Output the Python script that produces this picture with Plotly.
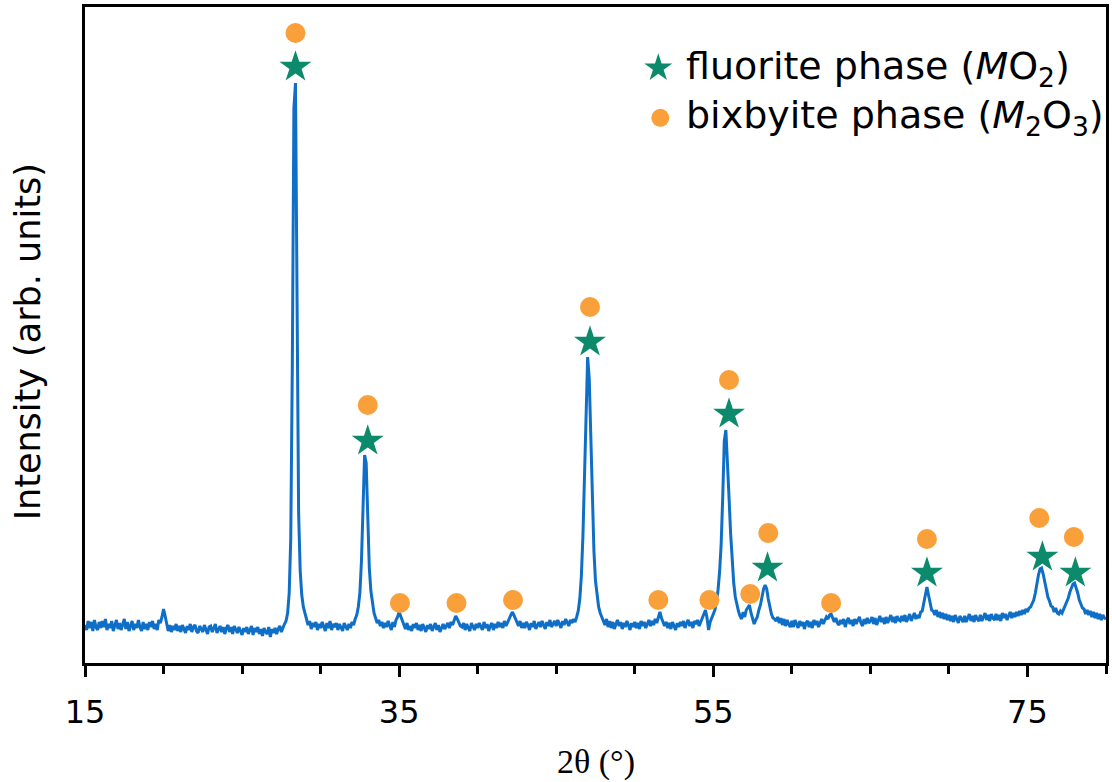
import plotly.graph_objects as go

# ---------------- data ----------------
# diffraction angle grid, 0.1 degree steps from 15.0 to 80.0
two_theta = [round(d + k / 10, 1) for d in range(15, 80) for k in range(10)] + [80.0]

# intensity (arb. units), one row per degree (d.0 ... d.9)
intensity = [
    38, 33, 42, 35, 41, 32, 43, 36, 33, 41,   # 15
    35, 42, 36, 44, 33, 39, 35, 42, 32, 39,   # 16
    43, 34, 40, 33, 39, 44, 34, 41, 32, 38,   # 17
    42, 33, 39, 35, 43, 36, 32, 41, 34, 39,   # 18
    33, 41, 36, 42, 34, 39, 33, 43, 40, 46,   # 19
    54, 47, 38, 32, 38, 31, 37, 33, 39, 32,   # 20
    37, 31, 38, 34, 30, 37, 33, 39, 31, 36,   # 21
    38, 32, 30, 37, 34, 31, 38, 33, 29, 36,   # 22
    37, 31, 35, 39, 30, 34, 37, 31, 36, 29,   # 23
    35, 38, 31, 36, 29, 37, 33, 30, 36, 32,   # 24
    28, 35, 31, 36, 29, 33, 37, 28, 35, 31,   # 25
    36, 29, 34, 27, 35, 31, 29, 36, 26, 34,   # 26
    30, 35, 29, 34, 37, 31, 36, 39, 42, 50,   # 27
    70, 125, 300, 555, 580, 330, 150, 92, 68, 56,   # 28
    50, 45, 38, 42, 34, 40, 36, 41, 33, 39,   # 29
    35, 41, 36, 32, 40, 35, 42, 33, 39, 36,   # 30
    40, 33, 39, 35, 32, 40, 36, 33, 39, 35,   # 31
    41, 38, 44, 48, 56, 70, 102, 162, 208, 200,   # 32
    142, 95, 72, 58, 50, 45, 40, 43, 37, 41,  # 33
    35, 40, 36, 42, 38, 33, 41, 36, 43, 46,   # 34
    51, 47, 41, 37, 34, 40, 33, 37, 32, 39,   # 35
    35, 40, 33, 38, 32, 39, 35, 31, 38, 34,   # 36
    39, 32, 36, 40, 33, 38, 31, 36, 39, 34,   # 37
    37, 40, 35, 41, 38, 43, 47, 44, 40, 37,   # 38
    36, 40, 33, 39, 35, 32, 40, 36, 33, 39,   # 39
    35, 40, 36, 33, 41, 35, 39, 32, 37, 40,   # 40
    33, 39, 35, 41, 36, 40, 35, 42, 37, 41,   # 41
    43, 47, 51, 48, 44, 39, 37, 42, 35, 40,   # 42
    35, 41, 38, 33, 40, 36, 42, 34, 38, 41,   # 43
    36, 42, 38, 34, 41, 37, 43, 36, 39, 42,   # 44
    37, 43, 39, 35, 42, 38, 44, 40, 37, 43,   # 45
    40, 44, 41, 46, 52, 64, 87, 127, 190, 270,    # 46
    306, 285, 225, 162, 112, 82, 66, 56, 50, 46,  # 47
    43, 38, 44, 36, 42, 35, 41, 34, 39, 43,   # 48
    37, 41, 34, 40, 36, 42, 38, 33, 40, 36,   # 49
    41, 35, 40, 34, 42, 37, 41, 35, 39, 43,   # 50
    37, 42, 38, 44, 40, 47, 51, 45, 40, 37,   # 51
    41, 35, 40, 34, 41, 37, 33, 40, 36, 41,   # 52
    37, 42, 35, 40, 43, 37, 41, 35, 42, 39,   # 53
    43, 37, 42, 45, 49, 53, 45, 33, 41, 45,   # 54
    49, 53, 61, 73, 91, 119, 166, 222, 233, 205,  # 55
    166, 130, 100, 80, 66, 58, 52, 47, 44, 51,    # 56
    46, 53, 55, 58, 50, 43, 39, 43, 46, 53,   # 57
    58, 66, 74, 78, 74, 64, 55, 49, 45, 44,   # 58
    42, 46, 40, 45, 38, 44, 37, 43, 39, 36,   # 59
    42, 36, 43, 38, 35, 42, 37, 41, 34, 40,   # 60
    42, 36, 41, 35, 43, 38, 42, 36, 41, 44,   # 61
    39, 43, 46, 44, 48, 49, 45, 41, 45, 40,   # 62
    38, 43, 39, 44, 36, 42, 45, 39, 43, 37,   # 63
    44, 39, 43, 46, 40, 37, 44, 39, 45, 40,   # 64
    42, 46, 39, 45, 38, 43, 47, 41, 45, 39,   # 65
    46, 40, 44, 48, 41, 46, 40, 47, 43, 42,   # 66
    47, 42, 48, 41, 45, 49, 42, 46, 50, 44,   # 67
    48, 45, 51, 52, 59, 67, 76, 68, 59, 53,   # 68
    52, 48, 53, 46, 51, 45, 50, 44, 49, 43,   # 69
    48, 42, 47, 41, 48, 44, 40, 47, 43, 41,   # 70
    47, 41, 45, 49, 42, 47, 41, 48, 44, 42,   # 71
    48, 42, 46, 50, 43, 48, 42, 49, 45, 43,   # 72
    49, 43, 48, 42, 50, 45, 49, 43, 47, 51,   # 73
    45, 50, 46, 51, 47, 52, 48, 53, 49, 54,   # 74
    51, 55, 56, 60, 63, 70, 80, 88, 94, 95,   # 75
    89, 80, 73, 66, 62, 57, 56, 51, 55, 50,   # 76
    49, 52, 50, 54, 56, 60, 65, 71, 76, 79,   # 77
    80, 76, 70, 63, 59, 55, 54, 49, 53, 48,   # 78
    52, 46, 51, 45, 50, 44, 49, 43, 48, 45,   # 79
    44,                                       # 80
]

# phase markers (position, marker height)
fluorite_x = [28.4, 33.0, 47.15, 56.0, 58.45, 68.6, 75.95, 78.05]
fluorite_y = [596, 222, 321, 249, 95, 90, 106, 90]

bixbyite_x = [28.4, 33.0, 35.05, 38.65, 42.25, 47.15, 51.5, 54.75, 56.0, 57.35, 58.5, 62.5, 68.6, 75.75, 77.95]
bixbyite_y = [630, 258, 60, 60, 63, 356, 63, 63, 283, 69, 130, 60, 124, 145, 126]

x_tick_vals = [15, 35, 55, 75]
x_tick_text = ["15", "35", "55", "75"]

legend_labels = ["fluorite phase (<i>M</i>O<sub>2</sub>)",
                 "bixbyite phase (<i>M</i><sub>2</sub>O<sub>3</sub>)"]

# ---------------- styling ----------------
LINE_BLUE = "#0F6FC6"
STAR_GREEN = "#0B8B6B"
DOT_ORANGE = "#F9A03A"
SANS = "DejaVu Sans"
SERIF = "Liberation Serif"

fig = go.Figure()

fig.add_trace(go.Scatter(
    x=two_theta, y=intensity, mode="lines",
    line=dict(color=LINE_BLUE, width=3),
    showlegend=False, hoverinfo="skip"))

fig.add_trace(go.Scatter(
    x=fluorite_x, y=fluorite_y, mode="markers",
    marker=dict(symbol="star", size=24, color=STAR_GREEN, line=dict(width=0)),
    showlegend=False))

fig.add_trace(go.Scatter(
    x=bixbyite_x, y=bixbyite_y, mode="markers",
    marker=dict(symbol="circle", size=20, color=DOT_ORANGE, line=dict(width=0)),
    showlegend=False))

# legend keys drawn on an invisible overlay (paper-like) axis
legend_key_x = [0.5615, 0.5635]
legend_key_y = [0.907, 0.831]
fig.add_trace(go.Scatter(
    x=legend_key_x[:1], y=legend_key_y[:1], xaxis="x2", yaxis="y2", mode="markers",
    marker=dict(symbol="star", size=21, color=STAR_GREEN, line=dict(width=0)),
    showlegend=False, hoverinfo="skip"))
fig.add_trace(go.Scatter(
    x=legend_key_x[1:], y=legend_key_y[1:], xaxis="x2", yaxis="y2", mode="markers",
    marker=dict(symbol="circle", size=18, color=DOT_ORANGE, line=dict(width=0)),
    showlegend=False, hoverinfo="skip"))

annotations = []
for lab, yy in zip(legend_labels, legend_key_y):
    annotations.append(dict(
        text=lab, xref="paper", yref="paper", x=0.587, y=yy,
        xanchor="left", yanchor="middle", showarrow=False,
        font=dict(family=SANS, size=38, color="black")))

annotations.append(dict(
    text="Intensity (arb. units)", xref="paper", yref="paper",
    x=-0.0557, y=0.489, textangle=-90, xanchor="center", yanchor="middle",
    showarrow=False, font=dict(family=SANS, size=35, color="black")))

annotations.append(dict(
    text="2θ (°)", xref="paper", yref="paper",
    x=0.5, y=-0.151, xanchor="center", yanchor="middle",
    showarrow=False, font=dict(family=SERIF, size=34, color="black")))

fig.update_layout(
    width=1112, height=782,
    margin=dict(l=85, r=3, t=7, b=119),
    paper_bgcolor="white", plot_bgcolor="white",
    showlegend=False,
    annotations=annotations,
    xaxis=dict(
        range=[15, 80], tickmode="array", tickvals=x_tick_vals, ticktext=x_tick_text,
        ticks="outside", ticklen=11, tickwidth=2.5, tickcolor="black",
        minor=dict(dtick=5, tick0=15, ticks="outside", ticklen=8, tickwidth=2.5, tickcolor="black", showgrid=False),
        showline=True, linecolor="black", linewidth=3, mirror=True,
        showgrid=False, zeroline=False,
        tickfont=dict(family=SANS, size=32, color="black"),
        ticklabelstandoff=8,
    ),
    yaxis=dict(
        range=[0, 656], showticklabels=False, ticks="",
        showline=True, linecolor="black", linewidth=3, mirror=True,
        showgrid=False, zeroline=False,
    ),
    xaxis2=dict(overlaying="x", range=[0, 1], visible=False),
    yaxis2=dict(overlaying="y", range=[0, 1], visible=False),
)

fig.write_html("out.html")
